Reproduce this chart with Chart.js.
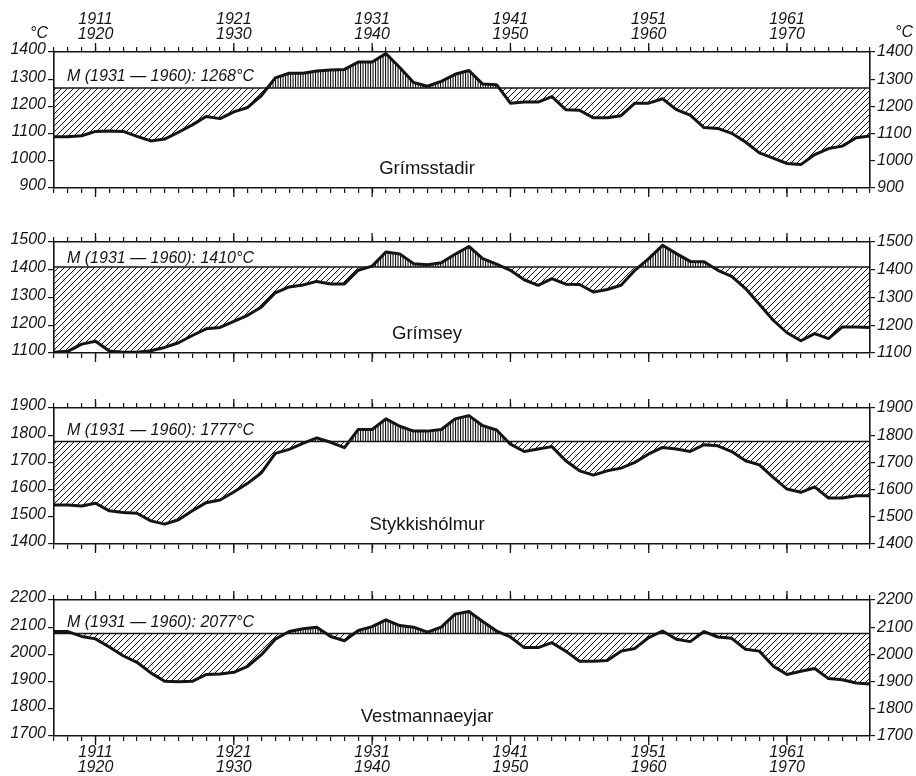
<!DOCTYPE html>
<html>
<head>
<meta charset="utf-8">
<script src="https://cdn.jsdelivr.net/npm/chart.js@4.4.1/dist/chart.umd.min.js"></script>
<style>
  html, body { margin: 0; padding: 0; background: #fff; }
  #wrap { position: relative; width: 916px; height: 776px; overflow: hidden; }
  #wrap canvas { position: absolute; left: 0; }
</style>
</head>
<body>
<div id="wrap">
  <canvas id="p0"></canvas>
  <canvas id="p1"></canvas>
  <canvas id="p2"></canvas>
  <canvas id="p3"></canvas>
</div>
<script>
// First year of each ten-year running period (1908-1917 ... 1967-1976)
const startYears = [
  1908, 1909, 1910, 1911, 1912, 1913, 1914, 1915, 1916, 1917,
  1918, 1919, 1920, 1921, 1922, 1923, 1924, 1925, 1926, 1927,
  1928, 1929, 1930, 1931, 1932, 1933, 1934, 1935, 1936, 1937,
  1938, 1939, 1940, 1941, 1942, 1943, 1944, 1945, 1946, 1947,
  1948, 1949, 1950, 1951, 1952, 1953, 1954, 1955, 1956, 1957,
  1958, 1959, 1960, 1961, 1962, 1963, 1964, 1965, 1966, 1967
];

// Decade tick labels (start / end of the period)
const decadeStart = [1911, 1921, 1931, 1941, 1951, 1961];
const decadeEnd   = [1920, 1930, 1940, 1950, 1960, 1970];

const stations = ['Grímsstadir', 'Grímsey', 'Stykkishólmur', 'Vestmannaeyjar'];
const normals  = [1268, 1410, 1777, 2077];   // M (1931 - 1960), °C
const yMin     = [900, 1100, 1400, 1700];
const yMax     = [1400, 1500, 1900, 2200];

// Ten-year running sums of temperature (°C)
const grimsstadir = [
  1088, 1088, 1092, 1108, 1110, 1108, 1090, 1073, 1080, 1105,
  1132, 1163, 1155, 1180, 1196, 1240, 1305, 1322, 1322, 1330,
  1334, 1336, 1363, 1363, 1394, 1343, 1288, 1274, 1292, 1318,
  1332, 1282, 1280, 1212, 1216, 1216, 1236, 1188, 1186, 1158,
  1158, 1166, 1212, 1212, 1228, 1188, 1168, 1122, 1119, 1101,
  1069, 1029, 1010, 990, 986, 1023, 1045, 1054, 1085, 1091
];
const grimsey = [
  1103, 1106, 1132, 1142, 1107, 1103, 1103, 1108, 1120, 1137,
  1163, 1187, 1192, 1214, 1236, 1266, 1317, 1338, 1345, 1358,
  1349, 1349, 1398, 1413, 1464, 1457, 1422, 1418, 1425, 1456,
  1484, 1440, 1420, 1398, 1364, 1344, 1368, 1348, 1347, 1320,
  1329, 1344, 1398, 1440, 1488, 1458, 1430, 1429, 1398, 1376,
  1332, 1276, 1218, 1173, 1144, 1170, 1152, 1194, 1194, 1192
];
const stykkisholmur = [
  1543, 1543, 1540, 1550, 1522, 1516, 1513, 1485, 1473, 1489,
  1522, 1552, 1562, 1591, 1623, 1662, 1733, 1748, 1770, 1790,
  1774, 1754, 1821, 1821, 1860, 1833, 1815, 1815, 1821, 1860,
  1872, 1835, 1819, 1767, 1740, 1749, 1758, 1706, 1669, 1653,
  1669, 1679, 1700, 1731, 1755, 1749, 1740, 1765, 1761, 1740,
  1706, 1691, 1645, 1602, 1590, 1610, 1569, 1569, 1577, 1577
];
const vestmannaeyjar = [
  2084, 2084, 2066, 2057, 2027, 1995, 1971, 1932, 1901, 1899,
  1901, 1926, 1928, 1934, 1956, 1999, 2056, 2084, 2094, 2100,
  2066, 2050, 2088, 2102, 2127, 2106, 2100, 2082, 2100, 2148,
  2158, 2121, 2086, 2064, 2025, 2025, 2043, 2012, 1975, 1975,
  1978, 2012, 2022, 2062, 2086, 2056, 2047, 2084, 2064, 2059,
  2019, 2012, 1957, 1926, 1938, 1948, 1911, 1907, 1895, 1891
];
const series = [grimsstadir, grimsey, stykkisholmur, vestmannaeyjar];

// Page layout of the four panels
const INK = '#141414';
const FONT = '"Liberation Sans", Arial, Helvetica, sans-serif';
const panels = [
  { top: 52,  bottom: 188, axisTop: 52, axisBottom: 12, mGap: 7 },
  { top: 242, bottom: 353, axisTop: 12, axisBottom: 12, mGap: 4 },
  { top: 408, bottom: 544, axisTop: 12, axisBottom: 12, mGap: 6 },
  { top: 600, bottom: 736, axisTop: 12, axisBottom: 40, mGap: 6 }
];
const LEFT_W = 54, RIGHT_W = 46;

function diagonalHatch(ctx) {
  const t = document.createElement('canvas');
  t.width = 6; t.height = 6;
  const g = t.getContext('2d');
  g.strokeStyle = INK; g.lineWidth = 1;
  g.beginPath();
  g.moveTo(-1, 7); g.lineTo(7, -1);
  g.moveTo(-1, 1); g.lineTo(1, -1);
  g.moveTo(5, 7);  g.lineTo(7, 5);
  g.stroke();
  return ctx.createPattern(t, 'repeat');
}
function verticalHatch(ctx) {
  const t = document.createElement('canvas');
  t.width = 5; t.height = 4;
  const g = t.getContext('2d');
  g.fillStyle = INK;
  g.fillRect(0, 0, 1.1, 4);
  g.fillRect(2.5, 0, 1.1, 4);
  return ctx.createPattern(t, 'repeat');
}

function decadeLabel(v) {
  const i = decadeStart.indexOf(v);
  return i >= 0 ? [String(decadeStart[i]), String(decadeEnd[i])] : '';
}
const blank = () => '';

// Longer decade ticks, the 1931-1960 mean line and the panel texts
const decor = {
  id: 'decor',
  beforeDatasetsDraw(chart) {
    const { ctx, chartArea: a, scales } = chart;
    const idx = chart.options.plugins.decor.index;
    const y = scales.y.getPixelForValue(normals[idx]);
    ctx.save();
    ctx.strokeStyle = INK; ctx.lineWidth = 1.5;
    ctx.beginPath(); ctx.moveTo(a.left, y); ctx.lineTo(a.right, y); ctx.stroke();
    ctx.restore();
  },
  afterDraw(chart) {
    const { ctx, chartArea: a, scales } = chart;
    const idx = chart.options.plugins.decor.index;
    const p = panels[idx];
    ctx.save();
    ctx.strokeStyle = INK; ctx.lineWidth = 1.3;
    ctx.beginPath();
    decadeStart.forEach(v => {
      const xb = scales.x.getPixelForValue(v);
      ctx.moveTo(xb, a.bottom); ctx.lineTo(xb, a.bottom + 9);
      const xt = scales.xt.getPixelForValue(v);
      ctx.moveTo(xt, a.top); ctx.lineTo(xt, a.top - 9);
    });
    ctx.stroke();

    ctx.fillStyle = INK;
    ctx.textBaseline = 'alphabetic';
    // mean label
    const ym = scales.y.getPixelForValue(normals[idx]);
    ctx.font = 'italic 16px ' + FONT;
    ctx.textAlign = 'left';
    ctx.fillText('M (1931 \u2014 1960): ' + normals[idx] + '\u00B0C', a.left + 13, ym - p.mGap);
    // station name
    ctx.font = '18.5px ' + FONT;
    ctx.textAlign = 'center';
    ctx.fillText(stations[idx], 427, a.bottom - 14);
    // unit labels
    if (idx === 0) {
      ctx.font = 'italic 16px ' + FONT;
      ctx.textAlign = 'right';
      ctx.fillText('\u00B0C', 48, 38);
      ctx.textAlign = 'left';
      ctx.fillText('\u00B0C', 895, 37);
    }
    ctx.restore();
  }
};

const tickFont = { family: FONT, size: 16, style: 'italic', lineHeight: 0.95 };

function xAxis(position, labels, height, pad) {
  return {
    type: 'linear', position, min: 1908, max: 1967,
    ticks: { stepSize: 1, autoSkip: false, maxRotation: 0, minRotation: 0,
             padding: pad, font: tickFont, color: INK, callback: labels },
    grid: { drawOnChartArea: false, drawTicks: true, tickLength: 5, color: INK, lineWidth: 1.2 },
    border: { display: true, color: INK, width: 1.6 },
    afterFit(s) { s.height = height; }
  };
}
function yAxis(position, idx, width, tl) {
  return {
    type: 'linear', position, min: yMin[idx], max: yMax[idx],
    ticks: { stepSize: 100, padding: 2, font: tickFont, color: INK,
             labelOffset: position === 'left' ? -2 : 0,
             callback: v => String(v) },
    grid: { drawOnChartArea: false, drawTicks: true, tickLength: tl, color: INK, lineWidth: 1.2 },
    border: { display: true, color: INK, width: 1.6 },
    afterFit(s) { s.width = width; }
  };
}

panels.forEach((p, idx) => {
  const cv = document.getElementById('p' + idx);
  const h = p.axisTop + (p.bottom - p.top) + p.axisBottom;
  cv.width = 916; cv.height = h;
  cv.style.width = '916px'; cv.style.height = h + 'px';
  cv.style.top = (p.top - p.axisTop) + 'px';
  const ctx = cv.getContext('2d');
  const values = series[idx];

  new Chart(ctx, {
    type: 'line',
    data: {
      datasets: [{
        label: stations[idx],
        data: startYears.map((yr, i) => ({ x: yr, y: values[i] })),
        xAxisID: 'x', yAxisID: 'y',
        borderColor: INK, borderWidth: 3, pointRadius: 0, tension: 0,
        borderJoinStyle: 'round',
        fill: { target: { value: normals[idx] }, above: verticalHatch(ctx), below: diagonalHatch(ctx) }
      }]
    },
    options: {
      responsive: false, animation: false, devicePixelRatio: 1,
      layout: { padding: 0 },
      events: [],
      plugins: { legend: { display: false }, tooltip: { enabled: false }, decor: { index: idx } },
      scales: {
        x:  xAxis('bottom', idx === 3 ? decadeLabel : blank, p.axisBottom, 4),
        xt: xAxis('top', idx === 0 ? decadeLabel : blank, p.axisTop, 5),
        y:  yAxis('left', idx, LEFT_W, 6),
        yr: yAxis('right', idx, RIGHT_W, 5)
      }
    },
    plugins: [decor]
  });
});
</script>
</body>
</html>
